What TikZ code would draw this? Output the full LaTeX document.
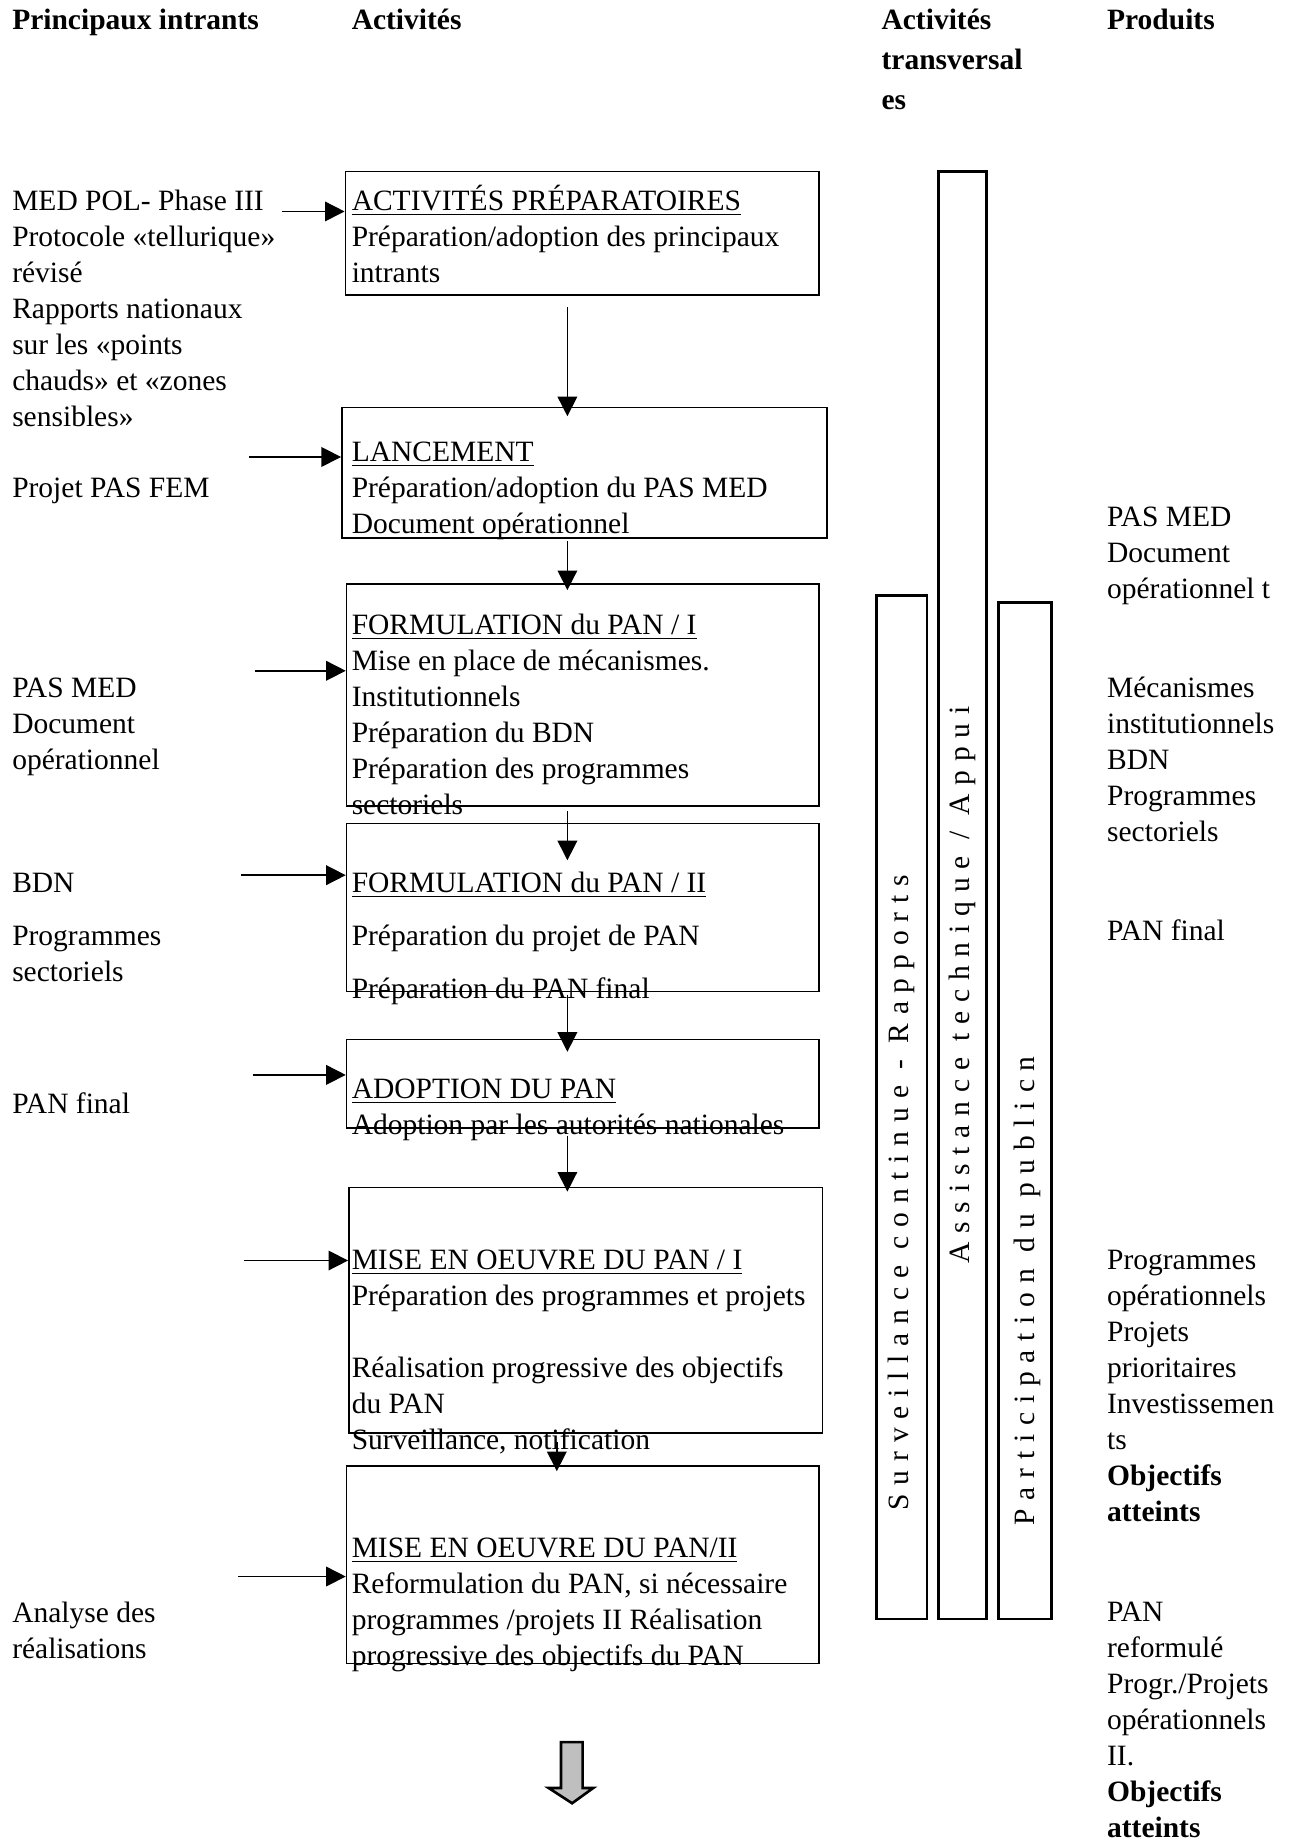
\documentclass[tikz,border=0pt]{standalone}
\usepackage{fontspec}
\setmainfont{Liberation Serif}
\usetikzlibrary{arrows.meta,calc,fit}
\newcommand{\fstrut}{\rule{0pt}{11pt}}
\begin{document}
\begin{tikzpicture}[x=0.45pt,y=-0.45pt,
	txt/.style={anchor=north west,inner sep=0pt,align=left,font=\fontsize{11.3}{13.8}\selectfont},
	head/.style={txt,font=\fontsize{11.3}{15.3}\selectfont\bfseries},
	box/.style={draw,line width=0.6pt,inner sep=0pt},
	bar/.style={draw,line width=1pt,inner sep=0pt},
	vtxt/.style={rotate=90,anchor=west,inner sep=0pt,font=\fontsize{11.3}{13.8}\selectfont\addfontfeature{LetterSpace=30}},
	arr/.style={line width=0.6pt,-{Triangle[length=7.5pt,width=7.5pt]}}]
	\useasboundingbox (0,0) rectangle (1097,1568);
	
	\node[head] (hdIn) at (10,0) {\fstrut Principaux intrants};
	\node[head] (hdAct) at (299,0) {\fstrut Activités};
	\node[head] (hdTrans) at (750,0) {\fstrut Activités\\transversal\\es};
	\node[head] (hdProd) at (942,0) {\fstrut Produits};
	
	\node[box,fit={(294,146) (697,251)}] (b1) {};
	\node[box,fit={(291,347) (704,458)}] (b2) {};
	\node[box,fit={(295,497) (697,686)}] (b3) {};
	\node[box,fit={(295,701) (697,844)}] (b4) {};
	\node[box,fit={(295,885) (697,960)}] (b5) {};
	\node[box,fit={(297,1011) (700,1220)}] (b6) {};
	\node[box,fit={(295,1248) (697,1416)}] (b7) {};
	
	\node[txt] (tPrep) at (299,154) {\fstrut\underline{ACTIVITÉS PRÉPARATOIRES}\\Préparation/adoption des principaux\\intrants};
	\node[txt] (tLanc) at (299,368) {\fstrut\underline{LANCEMENT}\\Préparation/adoption du PAS MED\\Document opérationnel};
	\node[txt] (tForm1) at (299,515) {\fstrut\underline{FORMULATION du PAN / I}\\Mise en place de mécanismes.\\Institutionnels\\Préparation du BDN\\Préparation des programmes\\sectoriels};
	\node[txt] (tForm2) at (299,735) {\fstrut\underline{FORMULATION du PAN / II}\\[6.4pt]Préparation du projet de PAN\\[6.4pt]Préparation du PAN final};
	\node[txt] (tAdopt) at (299,910) {\fstrut\underline{ADOPTION DU PAN}\\Adoption par les autorités nationales};
	\node[txt] (tMise1) at (299,1056) {\fstrut\underline{MISE EN OEUVRE DU PAN / I}\\Préparation des programmes et projets\\[13.8pt]Réalisation progressive des objectifs\\du PAN\\Surveillance, notification};
	\node[txt] (tMise2) at (299,1301) {\fstrut\underline{MISE EN OEUVRE DU PAN/II}\\Reformulation du PAN, si nécessaire\\programmes /projets II Réalisation\\progressive des objectifs du PAN};
	
	\node[txt] (inMed) at (10,154) {\fstrut MED POL- Phase III\\Protocole «tellurique»\\révisé\\Rapports nationaux\\sur les «points\\chauds» et «zones\\sensibles»};
	\node[txt] (inPas) at (10,399) {\fstrut Projet PAS FEM};
	\node[txt] (inDoc) at (10,569) {\fstrut PAS MED\\Document\\opérationnel};
	\node[txt] (inBdn) at (10,735) {\fstrut BDN};
	\node[txt] (inProg) at (10,780) {\fstrut Programmes\\sectoriels};
	\node[txt] (inFinal) at (10,923) {\fstrut PAN final};
	\node[txt] (inAnal) at (10,1356) {\fstrut Analyse des\\réalisations};
	
	\coordinate (a1) at (240,180);
	\coordinate (a2) at (212,389);
	\coordinate (a3) at (217,571);
	\coordinate (a4) at (205,745);
	\coordinate (a5) at (215,915);
	\coordinate (a6) at (208,1073);
	\coordinate (a7) at (203,1342);
	\draw[arr] (a1) -- (a1 -| b1.west);
	\draw[arr] (a2) -- (a2 -| b2.west);
	\draw[arr] (a3) -- (a3 -| b3.west);
	\draw[arr] (a4) -- (a4 -| b4.west);
	\draw[arr] (a5) -- (a5 -| b5.west);
	\draw[arr] (a6) -- (a6 -| b6.west);
	\draw[arr] (a7) -- (a7 -| b7.west);
	
	\coordinate (spine) at (483,0);
	\coordinate (spineb) at (474,0);
	\draw[arr] ($(b1.south -| spine)+(0,10)$) -- ($(b2.north -| spine)+(0,8)$);
	\draw[arr] ($(b2.south -| spine)+(0,2)$) -- ($(b3.north -| spine)+(0,6)$);
	\draw[arr] ($(b3.south -| spine)+(0,4)$) -- ($(b4.north -| spine)+(0,32)$);
	\draw[arr] ($(b4.south -| spine)+(0,2)$) -- ($(b5.north -| spine)+(0,11)$);
	\draw[arr] ($(b5.south -| spine)+(0,6)$) -- ($(b6.north -| spine)+(0,4)$);
	\draw[arr] ($(b6.south -| spineb)+(0,7)$) -- ($(b7.north -| spineb)+(0,5)$);
	
	\draw[line width=1pt,fill=black!25] (477.5,1483) -- (496,1483) -- (496,1522) -- (505,1522) -- (487,1535) -- (467,1522) -- (477.5,1522) -- cycle;
	
	\node[bar,fit={(746,507) (789,1378)}] (bar1) {};
	\node[bar,fit={(799,146) (840,1378)}] (bar2) {};
	\node[bar,fit={(850,513) (895,1378)}] (bar3) {};
	\node[vtxt] (vSurv) at ($(bar1.south)+(0,-93)$) {Surveillance continue - Rapports};
	\node[vtxt] (vAssist) at ($(bar2.south)+(0,-303)$) {Assistance technique / Appui};
	\node[vtxt] (vPartic) at ($(bar3.south)+(2,-80)$) {Participation du publicn};
	
	\node[txt] (outPas) at (942,423) {\fstrut PAS MED\\Document\\opérationnel t};
	\node[txt] (outMeca) at (942,569) {\fstrut Mécanismes\\institutionnels\\BDN\\Programmes\\sectoriels};
	\node[txt] (outFinal) at (942,776) {\fstrut PAN final};
	\node[txt] (outProg) at (942,1056) {\fstrut Programmes\\opérationnels\\Projets\\prioritaires\\Investissemen\\ts\\\textbf{Objectifs}\\\textbf{atteints}};
	\node[txt] (outRef) at (942,1355) {\fstrut PAN\\reformulé\\Progr./Projets\\opérationnels\\II.\\\textbf{Objectifs}\\\textbf{atteints}};
\end{tikzpicture}
\end{document}
